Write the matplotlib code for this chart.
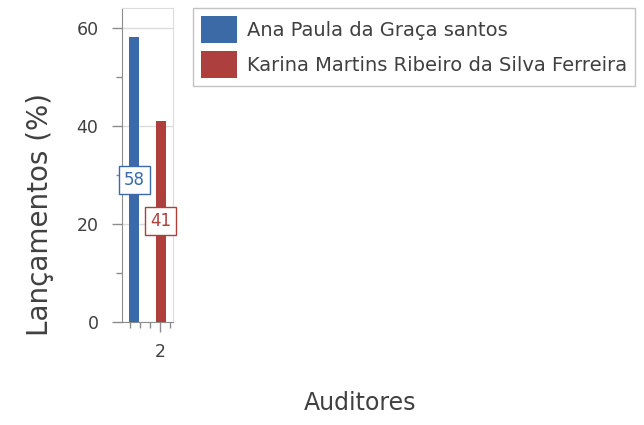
import numpy as np
import matplotlib.pyplot as plt
from matplotlib.ticker import MultipleLocator

# data
auditores = ["Ana Paula da Graça santos", "Karina Martins Ribeiro da Silva Ferreira"]
lancamentos = [58, 41]
cores = ["#3b6aa7", "#ad3f3f"]
grupo = 2
offsets = [-0.52, 0.01]
largura = 0.2

plt.rcParams['font.family'] = ['DejaVu Sans']
fig = plt.figure(figsize=(6.44, 4.25), dpi=100)
ax = fig.add_axes([122 / 644, 103 / 425, 51 / 644, 314 / 425])

for nome, val, cor, off in zip(auditores, lancamentos, cores, offsets):
    ax.bar(grupo + off, val, width=largura, color=cor, label=nome, zorder=3)
    ax.text(grupo + off, val / 2, str(val), ha='center', va='center', fontsize=12,
            color=cor, zorder=4,
            bbox=dict(boxstyle='square,pad=0.3', fc='white', ec=cor, lw=1))

ax.set_xlim(1.24, 2.26)
ax.set_ylim(0, 64)
ax.xaxis.set_major_locator(MultipleLocator(1))
ax.xaxis.set_minor_locator(MultipleLocator(0.2))
ax.yaxis.set_major_locator(MultipleLocator(20))
ax.yaxis.set_minor_locator(MultipleLocator(10))
ax.xaxis.set_major_formatter(plt.FuncFormatter(lambda v, p: f"{int(v)}"))

ax.grid(axis='y', which='major', color='#dcdcdc', lw=1, zorder=0)
for s in ['top', 'right']:
    ax.spines[s].set_color('#dcdcdc')
for s in ['left', 'bottom']:
    ax.spines[s].set_color('#8c8c8c')

ax.tick_params(axis='both', which='major', colors='#8c8c8c', labelcolor='#404040',
               labelsize=12.5, length=7, width=1)
ax.tick_params(axis='both', which='minor', colors='#8c8c8c', length=4, width=1)
ax.tick_params(axis='y', which='major', pad=10)
ax.tick_params(axis='x', pad=8)

fig.text(40 / 644, 1 - 215 / 425, "Lançamentos (%)", rotation=90, fontsize=20,
         color='#404040', ha='center', va='center')
fig.text(360 / 644, 1 - 403 / 425, "Auditores", fontsize=17, color='#404040',
         ha='center', va='center')

leg = ax.legend(loc='upper left', bbox_to_anchor=(193 / 644, 417 / 425),
                bbox_transform=fig.transFigure, fontsize=14, frameon=True,
                fancybox=False, edgecolor='#b4b4b4', handlelength=1.85,
                handleheight=1.75, handletextpad=0.55, borderpad=0.4,
                labelspacing=0.45, borderaxespad=0)
for t in leg.get_texts():
    t.set_color('#404040')

fig.savefig("out.png", dpi=100)
